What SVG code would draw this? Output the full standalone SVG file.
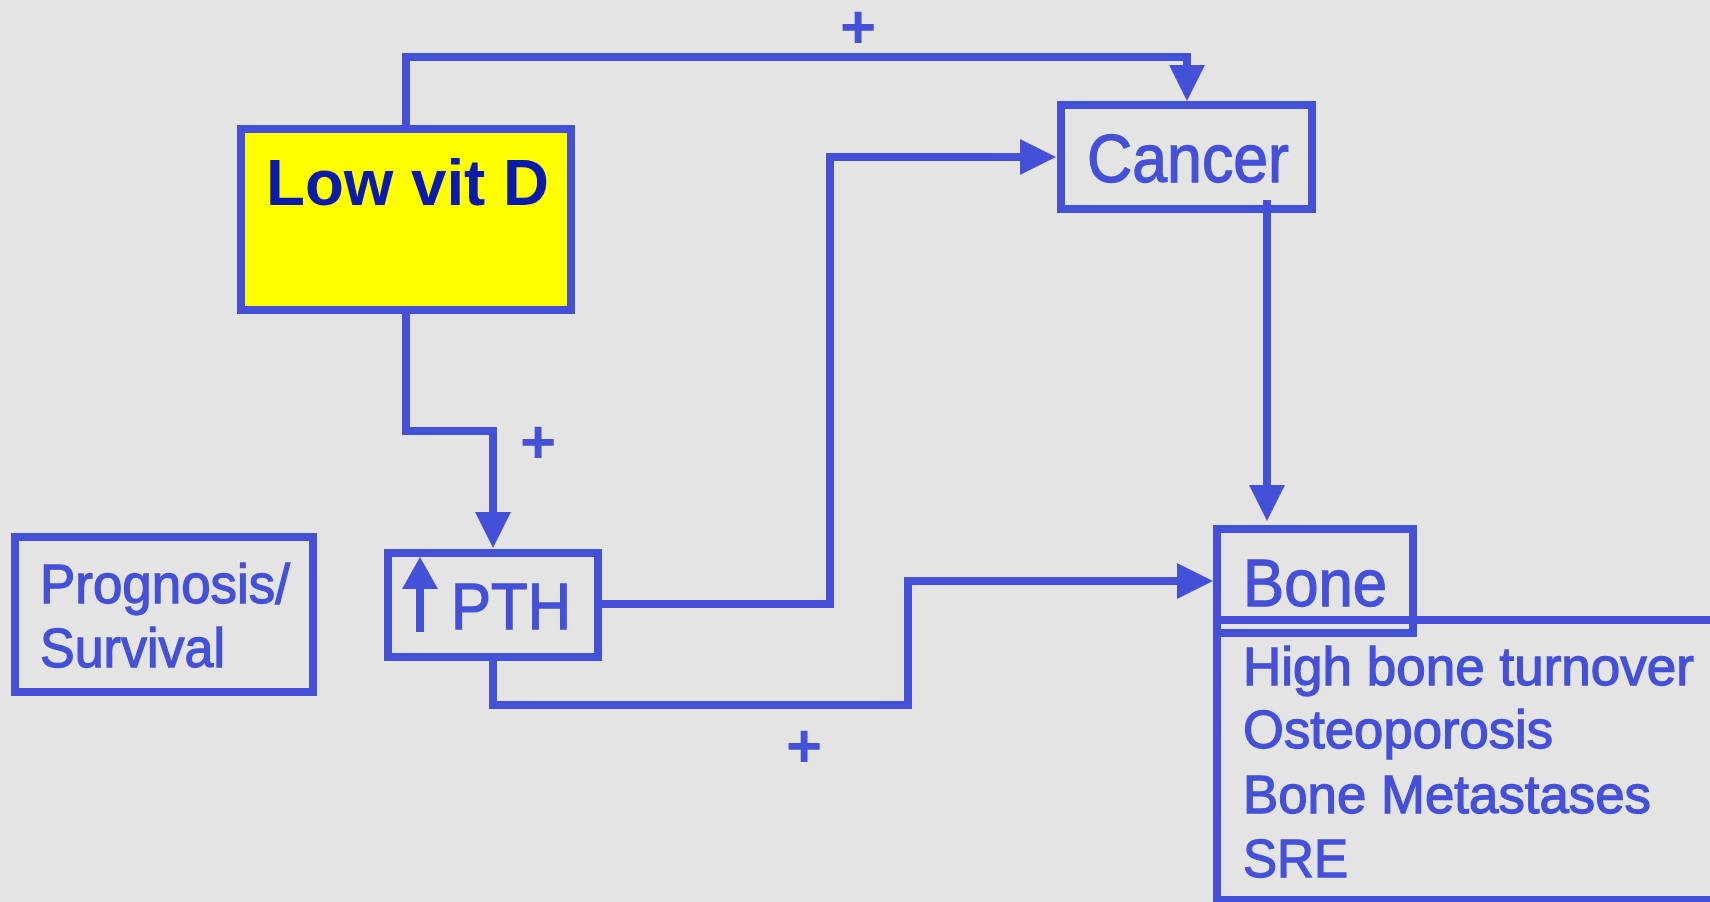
<svg xmlns="http://www.w3.org/2000/svg" width="1710" height="902" viewBox="0 0 1710 902">
<style>
.box{fill:none;stroke:#4450D8;stroke-width:8}
.con{fill:none;stroke:#4450D8;stroke-width:8;stroke-linejoin:miter}
.t{font-family:"Liberation Sans",Arial,sans-serif;fill:#4450D8;stroke:#4450D8;stroke-width:1.3}
.plus{font-family:"Liberation Sans",Arial,sans-serif;fill:#4450D8;font-weight:bold;font-size:62px;text-anchor:middle}
</style>
<defs>
<marker id="ah" markerUnits="userSpaceOnUse" markerWidth="36" markerHeight="36" refX="0" refY="18" orient="auto" viewBox="0 0 36 36">
<path d="M0,0 L36,18 L0,36 z" fill="#4450D8"/>
</marker>
</defs>
<rect width="1710" height="902" fill="#E4E4E4"/>
<g id="connectors">
<path class="con" d="M406,125 V57 H1187 V65" marker-end="url(#ah)"/>
<path class="con" d="M406,314 V431 H493 V512" marker-end="url(#ah)"/>
<path class="con" d="M602,604 H830 V157 H1020" marker-end="url(#ah)"/>
<path class="con" d="M1267,200 V485" marker-end="url(#ah)"/>
<path class="con" d="M493,661 V705 H908 V581 H1177" marker-end="url(#ah)"/>
<text class="plus" x="858" y="48">+</text>
<text class="plus" x="538" y="463">+</text>
<text class="plus" x="804" y="767">+</text>
</g>
<g id="lowvitd">
<rect x="241" y="129" width="330" height="181" fill="#FFFF00" stroke="#4450D8" stroke-width="8"/>
<text x="266" y="205" font-family="'Liberation Sans',Arial,sans-serif" font-weight="bold" font-size="65" fill="#0A1AAA" textLength="283" lengthAdjust="spacingAndGlyphs">Low vit D</text>
</g>
<g id="cancer">
<rect class="box" x="1061" y="105" width="251" height="104"/>
<text class="t" x="1087" y="182" font-size="68" textLength="202" lengthAdjust="spacingAndGlyphs">Cancer</text>
</g>
<g id="pth">
<rect class="box" x="388" y="553" width="210" height="104"/>
<line x1="420" y1="632" x2="420" y2="586" stroke="#4450D8" stroke-width="8"/>
<polygon points="402,589 438,589 420,557" fill="#4450D8"/>
<text class="t" x="451" y="629" font-size="64" textLength="120" lengthAdjust="spacingAndGlyphs">PTH</text>
</g>
<g id="prognosis">
<rect class="box" x="15" y="537" width="298" height="155"/>
<text class="t" x="40" y="603" font-size="55" textLength="250" lengthAdjust="spacingAndGlyphs">Prognosis/</text>
<text class="t" x="40" y="667" font-size="55" textLength="185" lengthAdjust="spacingAndGlyphs">Survival</text>
</g>
<g id="bone-details">
<rect class="box" x="1217" y="620" width="600" height="280"/>
<text class="t" x="1243" y="685" font-size="53" textLength="451" lengthAdjust="spacingAndGlyphs">High bone turnover</text>
<text class="t" x="1243" y="748" font-size="53" textLength="310" lengthAdjust="spacingAndGlyphs">Osteoporosis</text>
<text class="t" x="1243" y="813" font-size="53" textLength="408" lengthAdjust="spacingAndGlyphs">Bone Metastases</text>
<text class="t" x="1243" y="877" font-size="53" textLength="105" lengthAdjust="spacingAndGlyphs">SRE</text>
</g>
<g id="bone">
<rect class="box" x="1217" y="529" width="196" height="104"/>
<text class="t" x="1243" y="606" font-size="66" textLength="144" lengthAdjust="spacingAndGlyphs">Bone</text>
</g>
</svg>
